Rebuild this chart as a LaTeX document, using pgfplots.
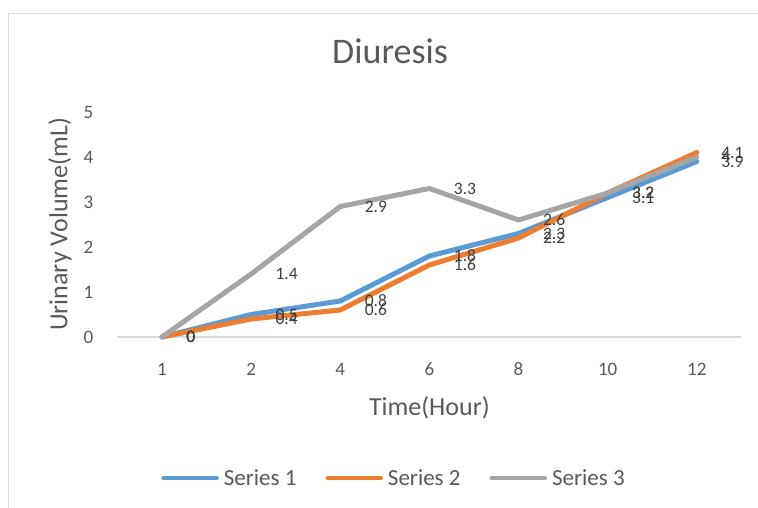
\documentclass[border=0pt]{standalone}
\usepackage{fontspec}
\setmainfont{Carlito}
\usepackage{pgfplots}
\pgfplotsset{compat=1.18}
\definecolor{sA}{HTML}{5B9BD5}
\definecolor{sB}{HTML}{ED7D31}
\definecolor{sC}{HTML}{A5A5A5}
\definecolor{txt}{HTML}{595959}
\definecolor{lbl}{HTML}{404040}
\definecolor{gridc}{HTML}{D9D9D9}
\begin{document}
\begin{tikzpicture}[x=1pt,y=1pt]
\useasboundingbox (0,0) rectangle (758,508);
\draw[gridc, line width=1.3pt] (8.6,0) -- (8.6,494.6) -- (758,494.6);
\begin{axis}[
  at={(117.4pt,171pt)}, anchor=south west,
  scale only axis, width=624pt, height=225pt,
  xmin=-0.5, xmax=6.5, ymin=0, ymax=5,
  axis x line=bottom, axis y line=left,
  x axis line style={-, gridc, line width=1.2pt},
  y axis line style={draw=none},
  major tick length=0pt,
  xtick={0,...,6}, xticklabels={1,2,4,6,8,10,12},
  ytick={0,...,5},
  /pgf/number format/assume math mode=true,
  tick label style={font=\fontsize{19}{22}\selectfont, text=txt},
  xticklabel style={anchor=center, yshift=-32pt},
  yticklabel style={anchor=east, inner sep=0pt, xshift=-24pt},
  title={Diuresis},
  title style={at={(axis description cs:0.437,1.244)}, anchor=center, font=\fontsize{36}{40}\selectfont, text=txt},
  xlabel={Time(Hour)},
  xlabel style={at={(axis description cs:0.5,-0.316)}, anchor=center, font=\fontsize{26}{30}\selectfont, text=txt},
  ylabel={Urinary Volume(mL)},
  ylabel style={at={(axis description cs:-0.092,0.5)}, anchor=center, font=\fontsize{26}{30}\selectfont, text=txt},
  clip=false,
  nodes near coords,
  every node near coord/.style={anchor=west, xshift=22pt, inner sep=0pt, font=\fontsize{17.5}{20}\selectfont, text=lbl},
  legend columns=3,
  legend style={at={(axis description cs:0.4417,-0.627)}, anchor=center, draw=none, fill=none,
    font=\fontsize{23}{26}\selectfont, text=txt,
    nodes={inner sep=0pt},
    /tikz/every odd column/.style={column sep=5pt},
    /tikz/every even column/.style={column sep=29pt}},
  legend image code/.code={\draw[#1, line width=4.5pt, line cap=round] (0pt,0pt) -- (53pt,0pt);},
  every axis plot/.append style={line width=5pt, line cap=round, line join=round},
]
\addplot[sA] coordinates {(0,0) (1,0.5) (2,0.8) (3,1.8) (4,2.3) (5,3.1) (6,3.9)};
\addlegendentry{Series 1}
\addplot[sB] coordinates {(0,0) (1,0.4) (2,0.6) (3,1.6) (4,2.2) (5,3.2) (6,4.1)};
\addlegendentry{Series 2}
\addplot[sC] coordinates {(0,0) (1,1.4) (2,2.9) (3,3.3) (4,2.6) (5,3.2) (6,4)};
\addlegendentry{Series 3}
\end{axis}
\end{tikzpicture}
\end{document}
